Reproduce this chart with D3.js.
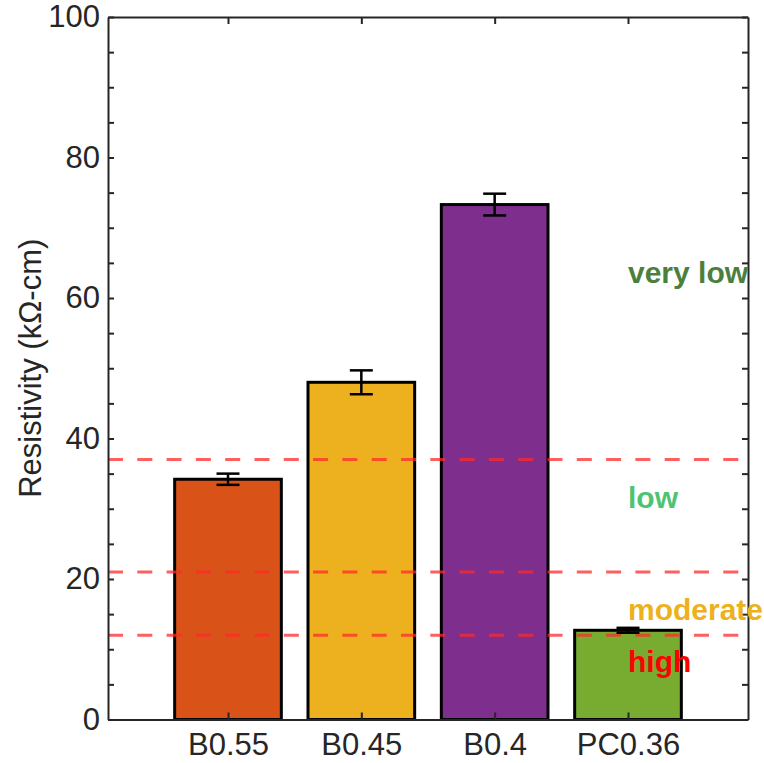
<!DOCTYPE html>
<html>
<head>
<meta charset="utf-8">
<script src="https://cdn.jsdelivr.net/npm/d3@7"></script>
<style>
  html, body { margin: 0; padding: 0; background: #fff; }
  svg { display: block; }
</style>
</head>
<body>
<svg id="chart" width="764" height="763"></svg>
<script>
// Mix designs and their measured resistivity (kΩ-cm) with error half-widths
const categories = ["B0.55", "B0.45", "B0.4", "PC0.36"];
const resistivity = [34.2, 48.0, 73.3, 12.7];
const errors = [0.8, 1.7, 1.55, 0.35];
const barColors = ["#D95319", "#EDB120", "#7E2F8E", "#77AC30"];

// Corrosion-risk thresholds (kΩ-cm)
const thresholds = [37, 21, 12];

// Risk zone labels and the resistivity level each sits at
const zoneLabels = ["very low", "low", "moderate", "high"];
const zoneLevels = [62.2, 30.1, 14.2, 6.8];
const zoneColors = ["#4B7F3E", "#4DC373", "#EDB120", "#FF0000"];

const yTickLabels = [0, 20, 40, 60, 80, 100];

const svg = d3.select("#chart");
const L = 108, R = 748, T = 17, B = 719.5;
const axisColor = "#262626";
const font = "'Liberation Sans', Arial, Helvetica, sans-serif";

// Category positions 1..4 on a continuous axis spanning 0.1..4.9
const x = d3.scaleLinear().domain([0.1, 4.9]).range([L, R]);
const y = d3.scaleLinear().domain([0, 100]).range([B, T]);
const barW = x(0.8) - x(0);

const g = svg.append("g");

// Bars
g.selectAll("rect.bar")
  .data(categories)
  .join("rect")
  .attr("class", "bar")
  .attr("x", (d, i) => x(i + 1) - barW / 2)
  .attr("y", (d, i) => y(resistivity[i]))
  .attr("width", barW)
  .attr("height", (d, i) => y(0) - y(resistivity[i]))
  .attr("fill", (d, i) => barColors[i])
  .attr("stroke", "#000")
  .attr("stroke-width", 3);

// Threshold lines
g.selectAll("line.thr")
  .data(thresholds)
  .join("line")
  .attr("class", "thr")
  .attr("x1", L).attr("x2", R)
  .attr("y1", d => y(d)).attr("y2", d => y(d))
  .attr("stroke", "#FF2A2A")
  .attr("stroke-opacity", 0.75)
  .attr("stroke-width", 3)
  .attr("stroke-dasharray", "15,14.3");

// Error bars
const capW = 11.5;
const eb = g.selectAll("g.err").data(categories).join("g").attr("class", "err");
eb.append("line")
  .attr("x1", (d, i) => x(i + 1)).attr("x2", (d, i) => x(i + 1))
  .attr("y1", (d, i) => y(resistivity[i] - errors[i]))
  .attr("y2", (d, i) => y(resistivity[i] + errors[i]));
eb.append("line")
  .attr("x1", (d, i) => x(i + 1) - capW).attr("x2", (d, i) => x(i + 1) + capW)
  .attr("y1", (d, i) => y(resistivity[i] - errors[i]))
  .attr("y2", (d, i) => y(resistivity[i] - errors[i]));
eb.append("line")
  .attr("x1", (d, i) => x(i + 1) - capW).attr("x2", (d, i) => x(i + 1) + capW)
  .attr("y1", (d, i) => y(resistivity[i] + errors[i]))
  .attr("y2", (d, i) => y(resistivity[i] + errors[i]));
eb.selectAll("line").attr("stroke", "#000").attr("stroke-width", 2.5);

// Axes box with inward ticks
const yTicks = d3.range(0, 101, 5);
const xTicks = categories.map((d, i) => i + 1);

const leftAxis = d3.axisLeft(y).tickValues(yTicks).tickSizeInner(-6).tickSizeOuter(0)
  .tickFormat(d => yTickLabels.includes(d) ? d : "").tickPadding(8);
const rightAxis = d3.axisRight(y).tickValues(yTicks).tickSizeInner(-6).tickSizeOuter(0)
  .tickFormat("");
const bottomAxis = d3.axisBottom(x).tickValues(xTicks).tickSizeInner(-7).tickSizeOuter(0)
  .tickFormat(d => categories[d - 1]).tickPadding(13);
const topAxis = d3.axisTop(x).tickValues(xTicks).tickSizeInner(-7).tickSizeOuter(0)
  .tickFormat("");

function style(sel) {
  sel.selectAll("path").attr("stroke", axisColor).attr("stroke-width", 2);
  sel.selectAll("line").attr("stroke", axisColor).attr("stroke-width", 2);
  sel.selectAll("text").attr("fill", axisColor).style("font-family", font).style("font-size", "31px");
}
svg.append("g").attr("transform", `translate(${L},0)`).call(leftAxis).call(style);
svg.append("g").attr("transform", `translate(${R},0)`).call(rightAxis).call(style);
svg.append("g").attr("transform", `translate(0,${B})`).call(bottomAxis).call(style);
svg.append("g").attr("transform", `translate(0,${T})`).call(topAxis).call(style);

// Y axis title
svg.append("text")
  .attr("transform", `translate(41,${(T + B) / 2}) rotate(-90)`)
  .attr("text-anchor", "middle")
  .attr("fill", axisColor)
  .style("font-family", font)
  .style("font-size", "31px")
  .text("Resistivity (kΩ-cm)");

// Zone labels
svg.selectAll("text.zone")
  .data(zoneLabels)
  .join("text")
  .attr("class", "zone")
  .attr("x", x(4))
  .attr("y", (d, i) => y(zoneLevels[i]))
  .attr("fill", (d, i) => zoneColors[i])
  .style("font-family", font)
  .style("font-size", "30px")
  .style("font-weight", "bold")
  .text(d => d);
</script>
</body>
</html>
